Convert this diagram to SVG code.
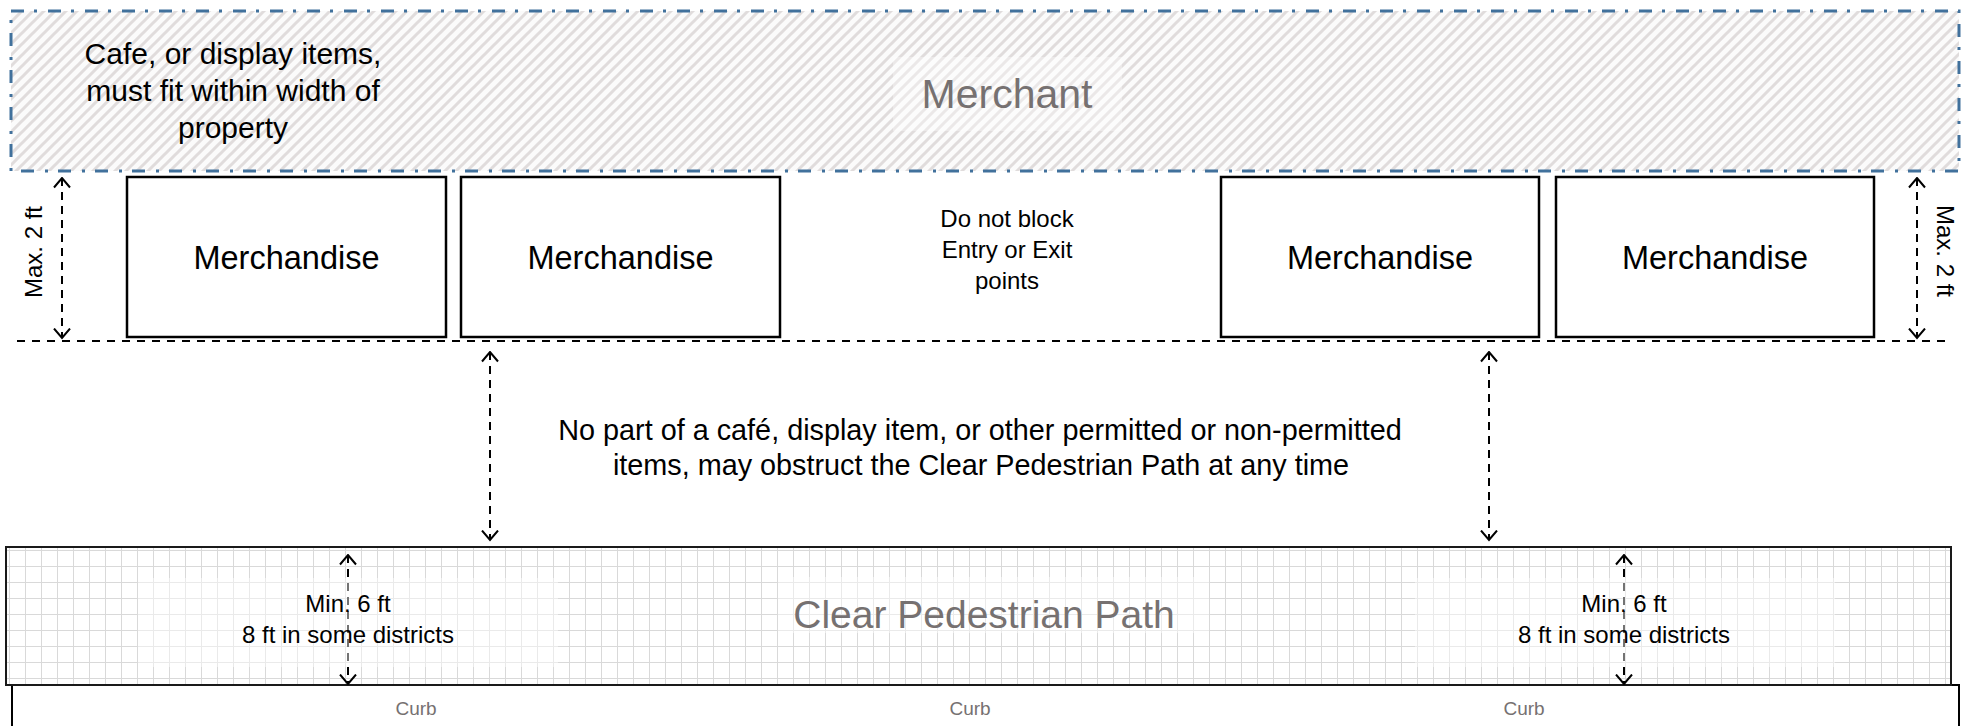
<svg xmlns="http://www.w3.org/2000/svg" width="1975" height="726" viewBox="0 0 1975 726">
<style>
.t{font-family:"Liberation Sans",Arial,sans-serif;fill:#000;text-anchor:middle}
.g{fill:#767171}
.box{fill:#fff;stroke:#000;stroke-width:2.5}
.dim{fill:none;stroke:#000;stroke-width:2;stroke-dasharray:8 6;marker-start:url(#ah);marker-end:url(#ah)}
.veil{fill:#fff;fill-opacity:0.45}
</style>
<defs>
<pattern id="hatch" patternUnits="userSpaceOnUse" width="11" height="11">
<rect width="11" height="11" fill="#fbfbfb"/>
<path d="M-2,2 L2,-2 M0,11 L11,0 M9,13 L13,9" stroke="#e0dcdc" stroke-width="3"/>
</pattern>
<pattern id="grid" patternUnits="userSpaceOnUse" x="9" y="550" width="16" height="16">
<rect width="16" height="16" fill="#fff"/>
<path d="M0,0 H16 M0,0 V16" stroke="#d9d9d9" stroke-width="2" fill="none"/>
</pattern>
<marker id="ah" viewBox="0 0 12 18" refX="10.5" refY="9" markerWidth="12" markerHeight="18" markerUnits="userSpaceOnUse" orient="auto-start-reverse">
<path d="M1,1 L10.5,9 L1,17" fill="none" stroke="#000" stroke-width="2" stroke-dasharray="none"/>
</marker>
</defs>

<g id="merchant">
<rect x="11" y="11" width="1948" height="160" fill="url(#hatch)" stroke="#41719c" stroke-width="3" stroke-dasharray="13 10 3 11"/>
<rect x="893" y="57" width="229" height="74" fill="#fff" fill-opacity="0.35"/>
<text class="t g" x="1007" y="108" font-size="41">Merchant</text>
<text class="t" x="233" y="64" font-size="30">Cafe, or display items,</text>
<text class="t" x="233" y="101" font-size="30">must fit within width of</text>
<text class="t" x="233" y="138" font-size="30">property</text>
</g>

<g id="merch1"><rect class="box" x="127" y="177" width="319" height="160"/><text class="t" x="286.5" y="269" font-size="32.5">Merchandise</text></g>
<g id="merch2"><rect class="box" x="461" y="177" width="319" height="160"/><text class="t" x="620.5" y="269" font-size="32.5">Merchandise</text></g>
<g id="merch3"><rect class="box" x="1221" y="177" width="318" height="160"/><text class="t" x="1380" y="269" font-size="32.5">Merchandise</text></g>
<g id="merch4"><rect class="box" x="1556" y="177" width="318" height="160"/><text class="t" x="1715" y="269" font-size="32.5">Merchandise</text></g>

<g id="entry-note">
<text class="t" x="1007" y="227" font-size="24">Do not block</text>
<text class="t" x="1007" y="258" font-size="24">Entry or Exit</text>
<text class="t" x="1007" y="289" font-size="24">points</text>
</g>

<g id="path-note">
<text class="t" x="980" y="440" font-size="28.8">No part of a café, display item, or other permitted or non-permitted</text>
<text class="t" x="981" y="475" font-size="28.8">items, may obstruct the Clear Pedestrian Path at any time</text>
</g>

<g id="curb">
<rect x="12" y="685" width="1947" height="60" fill="#fff" stroke="#000" stroke-width="2"/>
<text class="t g" x="416" y="715" font-size="19">Curb</text>
<text class="t g" x="970" y="715" font-size="19">Curb</text>
<text class="t g" x="1524" y="715" font-size="19">Curb</text>
</g>

<g id="pedestrian-path">
<rect x="6" y="547" width="1945" height="138" fill="url(#grid)" stroke="#1a1a1a" stroke-width="2"/>
</g>

<g id="connectors">
<line x1="17" y1="341" x2="1950" y2="341" stroke="#000" stroke-width="2" stroke-dasharray="8 7"/>
<line class="dim" x1="62" y1="178" x2="62" y2="338"/>
<line class="dim" x1="1917" y1="178" x2="1917" y2="338"/>
<line class="dim" x1="490" y1="352" x2="490" y2="540"/>
<line class="dim" x1="1489" y1="352" x2="1489" y2="540"/>
<line class="dim" x1="348" y1="555" x2="348" y2="684"/>
<line class="dim" x1="1624" y1="555" x2="1624" y2="684"/>
</g>

<g id="path-labels">
<rect class="veil" x="138" y="578" width="420" height="89"/>
<rect class="veil" x="1415" y="578" width="420" height="89"/>
<rect class="veil" x="778" y="577" width="431" height="56"/>
<text class="t g" x="984" y="628" font-size="39">Clear Pedestrian Path</text>
<text class="t" x="348" y="612" font-size="24">Min. 6 ft</text>
<text class="t" x="348" y="643" font-size="24">8 ft in some districts</text>
<text class="t" x="1624" y="612" font-size="24">Min. 6 ft</text>
<text class="t" x="1624" y="643" font-size="24">8 ft in some districts</text>
</g>

<g id="max-labels">
<text class="t" transform="translate(42,252) rotate(-90)" font-size="24">Max. 2 ft</text>
<text class="t" transform="translate(1937,251) rotate(90)" font-size="24">Max. 2 ft</text>
</g>
</svg>
